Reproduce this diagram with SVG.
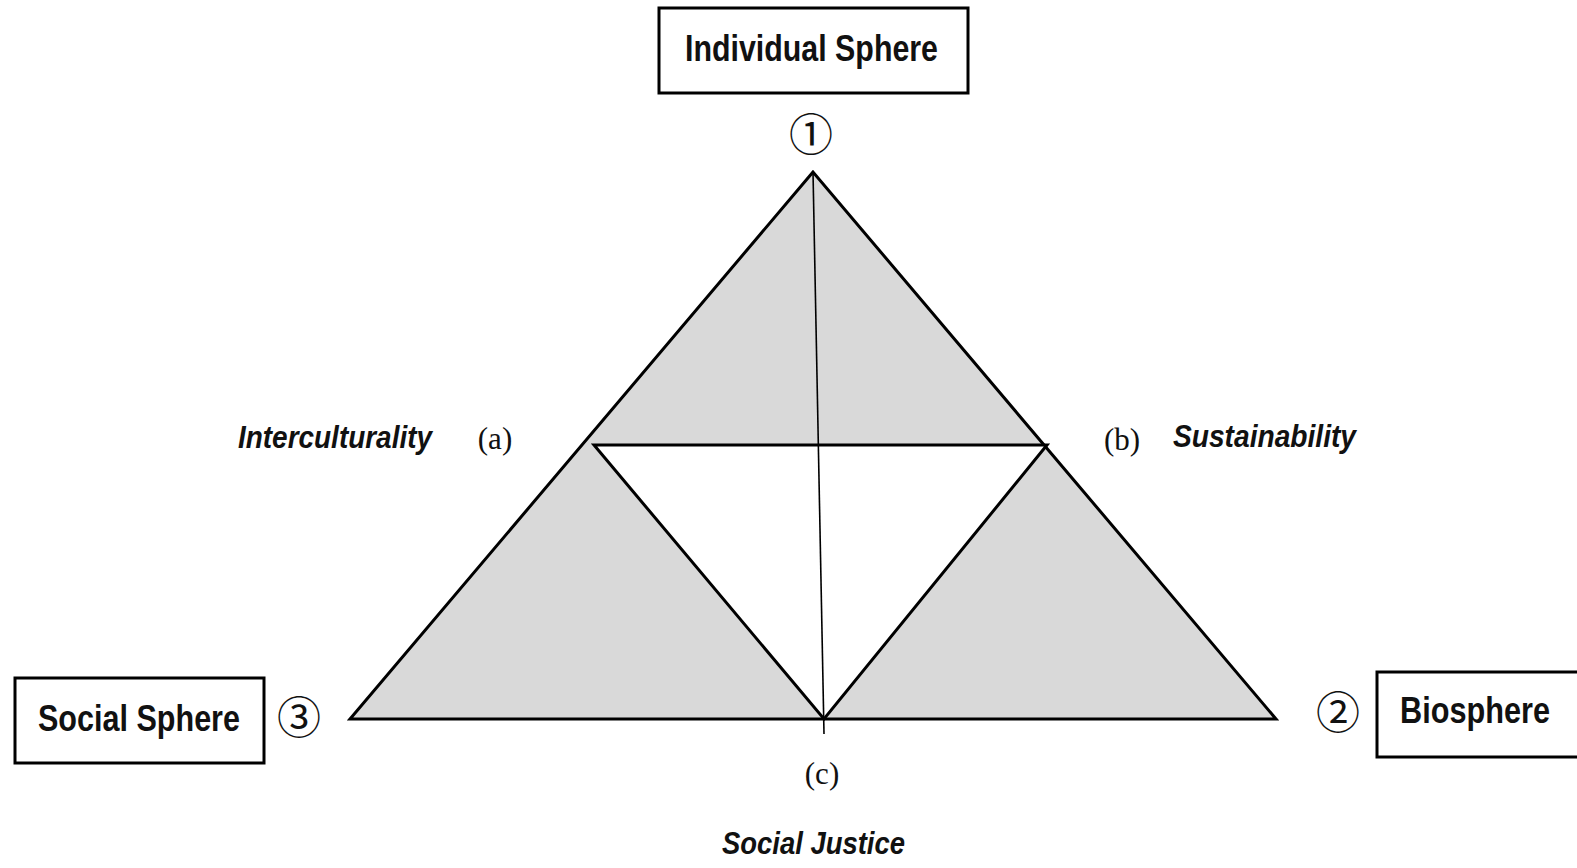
<svg xmlns="http://www.w3.org/2000/svg" width="1577" height="868" viewBox="0 0 1577 868">
<style>
.box{fill:#fff;stroke:#000;stroke-width:3}
.lbl{font-family:"Liberation Sans",Arial,sans-serif;font-weight:bold;font-size:37px;fill:#111}
.it{font-family:"Liberation Sans",Arial,sans-serif;font-weight:bold;font-style:italic;font-size:32px;fill:#111}
.ser{font-family:"Liberation Serif","Times New Roman",serif;font-size:31px;fill:#111}
.num{font-family:"Noto Sans CJK JP","DejaVu Sans",sans-serif;font-size:44px;fill:#111}
</style>
<g id="triangle">
<polygon points="813,172 350,719 1276,719" fill="#d9d9d9" stroke="#000" stroke-width="3" stroke-linejoin="miter"/>
<polygon points="594,445 1047,445 824,719" fill="#fff" stroke="#000" stroke-width="3"/>
</g>
<g id="connectors">
<line x1="813" y1="172" x2="824" y2="734" stroke="#000" stroke-width="1.6"/>
</g>
<g id="individual">
<rect class="box" x="659" y="8" width="309" height="85"/>
<text class="lbl" x="811.5" y="61" text-anchor="middle" textLength="253" lengthAdjust="spacingAndGlyphs">Individual Sphere</text>
<text class="num" x="811" y="151" text-anchor="middle">①</text>
</g>
<g id="social">
<rect class="box" x="15" y="678" width="249" height="85"/>
<text class="lbl" x="139" y="731" text-anchor="middle" textLength="202" lengthAdjust="spacingAndGlyphs">Social Sphere</text>
<text class="num" x="299" y="734" text-anchor="middle">③</text>
</g>
<g id="biosphere">
<rect class="box" x="1377" y="672" width="210" height="85"/>
<text class="lbl" x="1475" y="723" text-anchor="middle" textLength="150" lengthAdjust="spacingAndGlyphs">Biosphere</text>
<text class="num" x="1338" y="729" text-anchor="middle">②</text>
</g>
<g id="interculturality">
<text class="it" x="335" y="448" text-anchor="middle" textLength="194" lengthAdjust="spacingAndGlyphs">Interculturality</text>
<text class="ser" x="495" y="449" text-anchor="middle">(a)</text>
</g>
<g id="sustainability">
<text class="ser" x="1122" y="450" text-anchor="middle">(b)</text>
<text class="it" x="1264.5" y="447" text-anchor="middle" textLength="183" lengthAdjust="spacingAndGlyphs">Sustainability</text>
</g>
<g id="socialjustice">
<text class="ser" x="822" y="784" text-anchor="middle">(c)</text>
<text class="it" x="813.5" y="854" text-anchor="middle" textLength="183" lengthAdjust="spacingAndGlyphs">Social Justice</text>
</g>
</svg>
